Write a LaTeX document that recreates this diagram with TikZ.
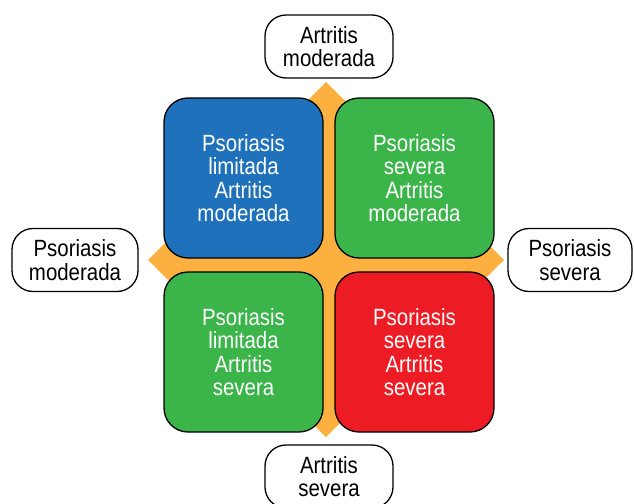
\documentclass[tikz,border=0pt]{standalone}
\usepackage{fontspec}
\setmainfont[FakeStretch=0.87]{Liberation Sans}
\definecolor{qblue}{RGB}{31,113,187}
\definecolor{qgreen}{RGB}{59,180,74}
\definecolor{qred}{RGB}{237,28,36}
\definecolor{qorange}{RGB}{251,176,64}
\begin{document}
\begin{tikzpicture}[x=1pt,y=-1pt,
  quad/.style={draw=black, line width=1.3pt, rounded corners=24pt, minimum width=159pt, minimum height=160pt, text=white, align=center, font=\fontsize{23.5}{23.5}\selectfont, inner sep=0pt},
  lab/.style={draw=black, fill=white, line width=1.3pt, rounded corners=21pt, minimum height=63pt, align=center, font=\fontsize{23.5}{23.5}\selectfont, inner sep=0pt}]
\useasboundingbox (0,0) rectangle (634,503);
\fill[qorange] (326,82) -- (504,260) -- (326,437) -- (148,260) -- cycle;
\node[quad, fill=qblue] (tl) at (243.5,178) {Psoriasis\\limitada\\Artritis\\moderada};
\node[quad, fill=qgreen] (tr) at (414.5,178) {Psoriasis\\severa\\Artritis\\moderada};
\node[quad, fill=qgreen] (bl) at (243.5,352) {Psoriasis\\limitada\\Artritis\\severa};
\node[quad, fill=qred] (br) at (414.5,352) {Psoriasis\\severa\\Artritis\\severa};
\node[lab, minimum width=128pt] (top) at (329,46.5) {Artritis\\moderada};
\node[lab, minimum width=126pt] (left) at (75,260) {Psoriasis\\moderada};
\node[lab, minimum width=124pt] (right) at (570,260) {Psoriasis\\severa};
\node[lab, minimum width=128pt] (bottom) at (329,476.5) {Artritis\\severa};
\end{tikzpicture}
\end{document}
